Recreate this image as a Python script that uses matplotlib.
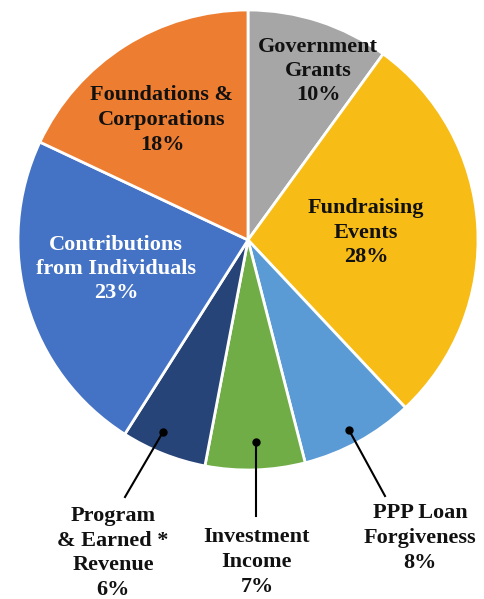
import matplotlib
matplotlib.use("Agg")
import matplotlib.pyplot as plt

# revenue share, clockwise from 12 o'clock
categories = ["Government Grants", "Fundraising Events", "PPP Loan Forgiveness",
              "Investment Income", "Program & Earned Revenue",
              "Contributions from Individuals", "Foundations & Corporations"]
shares = [10, 28, 8, 7, 6, 23, 18]
colors = ["#A6A6A6", "#F8BC16", "#5B9BD5", "#70AD47", "#264478", "#4472C4", "#ED7D31"]

W, H = 484, 599
fig = plt.figure(figsize=(W / 100, H / 100), dpi=100)
ax = fig.add_axes([0, 0, 1, 1])

cx, cy, r = 248, H - 240, 230
ax.pie(shares, colors=colors, startangle=90, counterclock=False,
       center=(cx, cy), radius=r, frame=True,
       wedgeprops=dict(edgecolor="white", linewidth=2))
ax.set_xlim(0, W)
ax.set_ylim(0, H)
ax.set_aspect("equal")
ax.axis("off")

font = dict(family=["Liberation Serif", "DejaVu Serif"], fontweight="bold",
            fontsize=16, ha="center", va="center", linespacing=1.3)

def label(x, y, txt, color="#111111"):
    ax.text(x, H - y, txt, color=color, **font)

# labels inside the pie
label(318, 71, f"Government\nGrants\n{shares[0]}%")
label(366, 233, f"Fundraising\nEvents\n{shares[1]}%")
label(162, 120, f"Foundations &\nCorporations\n{shares[6]}%")
label(116, 269, f"Contributions\nfrom Individuals\n{shares[5]}%", color="white")

# labels outside with leader lines
leaders = [((163, 432), (125, 497)), ((256, 442), (256, 516)), ((349, 430), (385, 496))]
for (x0, y0), (x1, y1) in leaders:
    ax.plot([x0, x1], [H - y0, H - y1], color="black", linewidth=1.5)
    ax.plot(x0, H - y0, "o", color="black", markersize=5)

label(113, 553, f"Program\n& Earned *\nRevenue\n{shares[4]}%")
label(257, 562, f"Investment\nIncome\n{shares[3]}%")
label(420, 538, f"PPP Loan\nForgiveness\n{shares[2]}%")

fig.savefig("out.png", dpi=100)
